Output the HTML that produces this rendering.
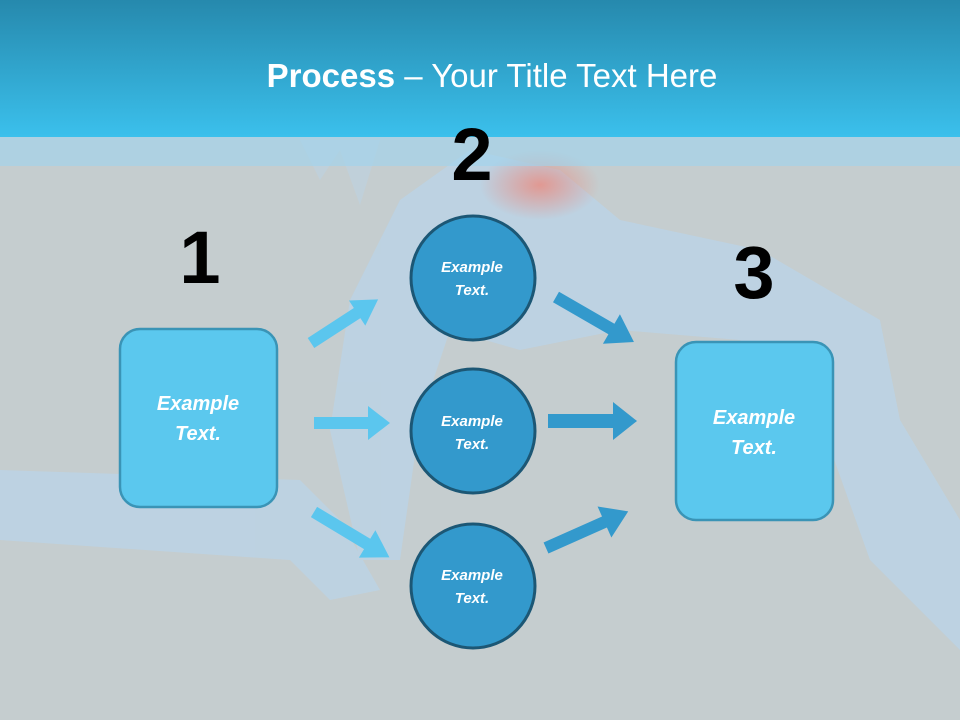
<!DOCTYPE html>
<html><head><meta charset="utf-8"><style>
html,body{margin:0;padding:0;width:960px;height:720px;overflow:hidden;background:#c5cdcf}
svg{display:block}
text{font-family:"Liberation Sans",sans-serif}
</style></head><body>
<svg width="960" height="720" viewBox="0 0 960 720" xmlns="http://www.w3.org/2000/svg">
<defs>
<linearGradient id="hd" x1="0" y1="0" x2="0" y2="1">
<stop offset="0" stop-color="#2689ad"/><stop offset="1" stop-color="#3bc0ec"/>
</linearGradient>
<radialGradient id="red" cx="0.5" cy="0.5" r="0.5">
<stop offset="0" stop-color="#f08070" stop-opacity="0.7"/><stop offset="1" stop-color="#f08070" stop-opacity="0"/>
</radialGradient>
</defs>
<rect width="960" height="720" fill="#c5cdcf"/>
<g fill="#b8d6ee" opacity="0.6">
<path d="M0 470 L300 480 L340 520 L380 590 L330 600 L290 560 L0 540 Z"/>
<path d="M360 560 L330 430 L350 300 L400 200 L470 150 L560 170 L620 220 L760 250 L880 320 L900 420 L960 520 L960 650 L870 560 L820 420 L740 340 L620 330 L520 350 L450 330 L420 420 L400 560 Z"/>
<path d="M300 140 L320 180 L340 150 L360 205 L380 140 Z" opacity="0.6"/>
</g>
<ellipse cx="540" cy="185" rx="60" ry="35" fill="url(#red)"/>
<rect x="0" y="0" width="960" height="137" fill="url(#hd)"/>
<rect x="0" y="137" width="960" height="29" fill="#9ed3ef" opacity="0.6"/>
<text x="492" y="87" text-anchor="middle" fill="#fff" font-size="33"><tspan font-weight="bold">Process</tspan> – Your Title Text Here</text>
<g font-weight="bold" font-size="74" fill="#000" text-anchor="middle">
<text x="200" y="283">1</text>
<text x="472" y="180">2</text>
<text x="754" y="298">3</text>
</g>
<g fill="#5bc6ee">
<path d="M0 -6 L55 -6 L55 -15 L80 0 L55 15 L55 6 L0 6 Z" transform="translate(311,343) rotate(-33)"/>
<path d="M0 -6 L54 -6 L54 -17 L76 0 L54 17 L54 6 L0 6 Z" transform="translate(314,423)"/>
<path d="M0 -6 L62 -6 L62 -16 L88 0 L62 16 L62 6 L0 6 Z" transform="translate(314,512) rotate(31)"/>
</g>
<g fill="#3399cc">
<path d="M0 -6 L64 -6 L64 -17 L90 0 L64 17 L64 6 L0 6 Z" transform="translate(556,297) rotate(30)"/>
<path d="M0 -7 L65 -7 L65 -19 L89 0 L65 19 L65 7 L0 7 Z" transform="translate(548,421)"/>
<path d="M0 -6 L64 -6 L64 -17 L90 0 L64 17 L64 6 L0 6 Z" transform="translate(546,548) rotate(-24)"/>
</g>
<rect x="120" y="329" width="157" height="178" rx="20" fill="#5bc8ee" stroke="#3a94b6" stroke-width="2.5"/>
<rect x="676" y="342" width="157" height="178" rx="20" fill="#5bc8ee" stroke="#3a94b6" stroke-width="2.5"/>
<g fill="#3399cc" stroke="#1c5775" stroke-width="3">
<circle cx="473" cy="278" r="62"/>
<circle cx="473" cy="431" r="62"/>
<circle cx="473" cy="586" r="62"/>
</g>
<g fill="#fff" font-style="italic" font-weight="bold" text-anchor="middle">
<text x="198" y="410" font-size="20">Example</text><text x="198" y="440" font-size="20">Text.</text>
<text x="754" y="424" font-size="20">Example</text><text x="754" y="454" font-size="20">Text.</text>
<text x="472" y="272" font-size="15">Example</text><text x="472" y="295" font-size="15">Text.</text>
<text x="472" y="426" font-size="15">Example</text><text x="472" y="449" font-size="15">Text.</text>
<text x="472" y="580" font-size="15">Example</text><text x="472" y="603" font-size="15">Text.</text>
</g>
</svg>
</body></html>
